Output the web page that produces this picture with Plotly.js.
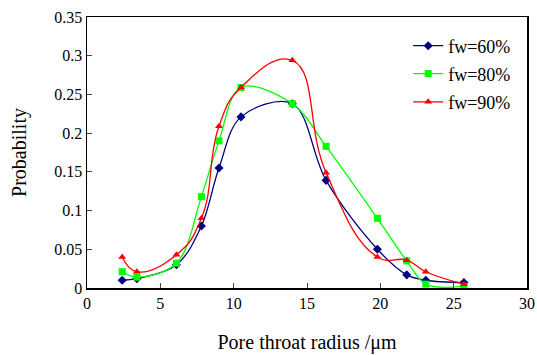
<!DOCTYPE html>
<html>
<head>
<meta charset="utf-8">
<script src="https://cdn.plot.ly/plotly-3.0.1.min.js"></script>
<style>html,body{margin:0;padding:0;background:#fff;}#chart{width:537px;height:355px;}</style>
</head>
<body>
<div id="chart"></div>
<script>
const seriesNames = ["fw=60%", "fw=80%", "fw=90%"];
const radius = [2.4, 3.4, 6.1, 7.8, 9.0, 10.5, 14.0, 16.3, 19.8, 21.8, 23.1, 25.7];
const fw60 = [0.010, 0.012, 0.030, 0.080, 0.155, 0.221, 0.238, 0.139, 0.050, 0.017, 0.010, 0.007];
const fw80 = [0.021, 0.014, 0.032, 0.118, 0.190, 0.259, 0.238, 0.183, 0.090, 0.035, 0.005, 0.002];
const fw90 = [0.040, 0.021, 0.043, 0.090, 0.209, 0.259, 0.294, 0.149, 0.040, 0.036, 0.021, 0.005];
const xTicks = [0, 5, 10, 15, 20, 25, 30];
const yTicks = [0, 0.05, 0.1, 0.15, 0.2, 0.25, 0.3, 0.35];

const colors = ["#000080", "#00FF00", "#FF0000"];
const symbols = ["diamond", "square", "triangle-up"];
const smooth = [1, 1, 1.3];
const legendIds = ["legend", "legend2", "legend3"];
const ys = [fw60, fw80, fw90];

const traces = ys.map((y, i) => ({
  x: radius, y: y, name: seriesNames[i], type: "scatter", mode: "lines+markers",
  legend: legendIds[i],
  line: {color: colors[i], width: 1.3, shape: "spline", smoothing: smooth[i]},
  marker: {color: colors[i], symbol: symbols[i], size: 7}
}));

const font = "'Liberation Serif', 'Times New Roman', serif";
const legendBase = (yy) => ({x: 0.73, y: yy, xanchor: "left", yanchor: "middle", bgcolor: "rgba(0,0,0,0)",
  font: {family: font, size: 18, color: "#000"}, itemwidth: 30});
const layout = {
  width: 537, height: 355,
  margin: {l: 87, r: 10, t: 17, b: 67},
  paper_bgcolor: "#fff", plot_bgcolor: "#fff",
  font: {family: font, size: 16, color: "#000"},
  showlegend: true,
  legend: legendBase(0.893),
  legend2: legendBase(0.790),
  legend3: legendBase(0.686),
  xaxis: {range: [0, 30], tickvals: xTicks, ticktext: xTicks.map(String), ticks: "inside", ticklen: 5,
          showgrid: false, zeroline: false, showline: true, mirror: true, linecolor: "#000", linewidth: 1.5,
          tickfont: {family: font, size: 16}, title: {text: "Pore throat radius /μm", font: {family: font, size: 20}, standoff: 24}},
  yaxis: {range: [0, 0.35], tickvals: yTicks, ticktext: yTicks.map(v => String(v)), ticks: "inside", ticklen: 5,
          showgrid: false, zeroline: false, showline: true, mirror: true, linecolor: "#000", linewidth: 1.5,
          tickfont: {family: font, size: 16}, title: {text: "Probability", font: {family: font, size: 20}, standoff: 22}}
};
Plotly.newPlot("chart", traces, layout, {displayModeBar: false, staticPlot: true});
</script>
</body>
</html>
